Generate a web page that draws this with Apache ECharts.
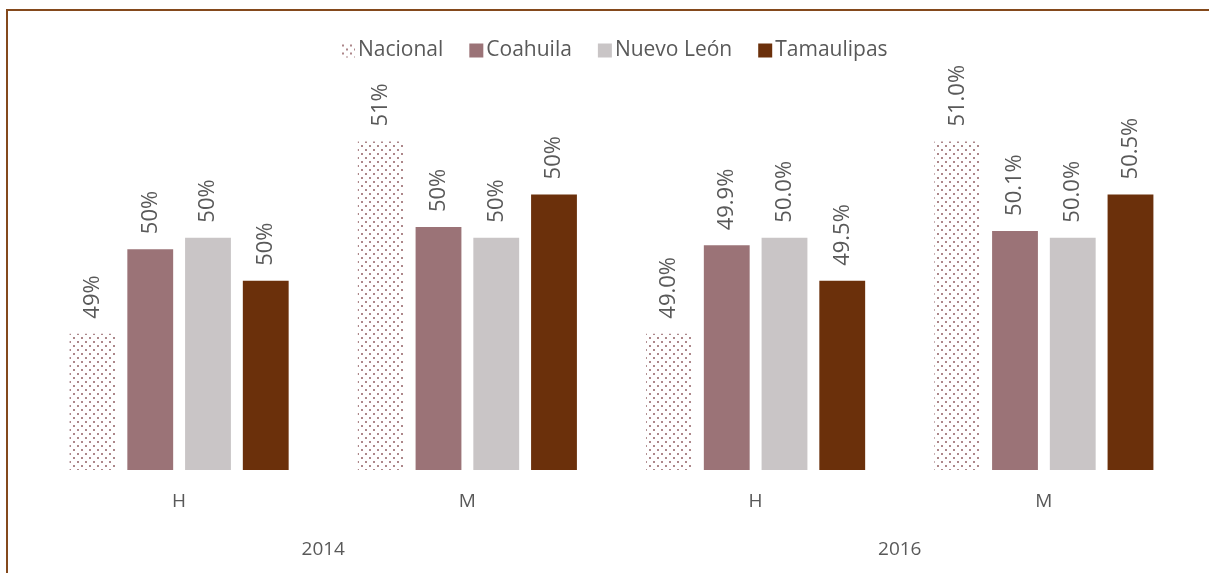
<!DOCTYPE html>
<html>
<head>
<meta charset="utf-8">
<script src="https://cdn.jsdelivr.net/npm/echarts@6/dist/echarts.min.js"></script>
<style>
  html, body { margin: 0; padding: 0; background: #fff; }
  #chart { position: absolute; left: 0; top: 0; width: 1209px; height: 573px; }
  #frame { position: absolute; left: 6px; top: 9px; width: 1203px; height: 564px;
           border-top: 2px solid #84491c; border-left: 2px solid #84491c; pointer-events: none; }
</style>
</head>
<body>
<div id="chart"></div>
<div id="frame"></div>
<script>
  var categories = ["H", "M", "H", "M"];
  var years = ["2014", "2016"];
  var nacional = [49.0, 51.0, 49.0, 51.0];
  var coahuila = [49.88, 50.11, 49.92, 50.07];
  var nuevoLeon = [50.0, 50.0, 50.0, 50.0];
  var tamaulipas = [49.55, 50.45, 49.55, 50.45];
  var seriesNames = ["Nacional", "Coahuila", "Nuevo León", "Tamaulipas"];

  // dotted fill used for Nacional
  var dots = document.createElement("canvas");
  dots.width = 8;
  dots.height = 8;
  var ctx = dots.getContext("2d");
  ctx.fillStyle = "#ad878a";
  ctx.fillRect(1, 1, 2, 2);
  ctx.fillRect(5, 5, 2, 2);

  var chart = echarts.init(document.getElementById("chart"), null, { renderer: "canvas" });

  var labelText = function (p) {
    var dec = p.dataIndex < 2 ? 0 : 1;
    return p.value.toFixed(dec) + "%";
  };

  var makeSeries = function (name, data, color) {
    return {
      name: name,
      type: "bar",
      data: data,
      barGap: "26%",
      barCategoryGap: "24%",
      itemStyle: { color: color },
      label: {
        show: true,
        position: "top",
        rotate: 90,
        align: "left",
        verticalAlign: "middle",
        distance: 15,
        color: "#595959",
        fontSize: 22,
        fontFamily: "Open Sans",
        formatter: labelText
      }
    };
  };

  var option = {
    animation: false,
    textStyle: { fontFamily: "Open Sans" },
    legend: {
      top: 35,
      left: 336,
      itemWidth: 14,
      itemHeight: 14,
      itemGap: 26,
      icon: "rect",
      textStyle: { color: "#595959", fontSize: 21, fontFamily: "Open Sans", padding: [0, 0, 0, -2] },
      data: seriesNames
    },
    grid: { left: 35, right: 21, top: 45.6, bottom: 103 },
    xAxis: [
      {
        type: "category",
        data: categories,
        axisLine: { show: false },
        axisTick: { show: false },
        axisLabel: { color: "#595959", fontSize: 19, margin: 22 }
      },
      {
        type: "category",
        data: years,
        position: "bottom",
        offset: 48,
        axisLine: { show: false },
        axisTick: { show: false },
        axisLabel: { color: "#595959", fontSize: 19, margin: 22 }
      }
    ],
    yAxis: {
      type: "value",
      min: 47.58,
      max: 52,
      show: false,
      splitLine: { show: false }
    },
    series: [
      makeSeries(seriesNames[0], nacional, { image: dots, repeat: "repeat" }),
      makeSeries(seriesNames[1], coahuila, "#9b7377"),
      makeSeries(seriesNames[2], nuevoLeon, "#c9c5c6"),
      makeSeries(seriesNames[3], tamaulipas, "#6b300b")
    ]
  };
  chart.setOption(option);
</script>
</body>
</html>
